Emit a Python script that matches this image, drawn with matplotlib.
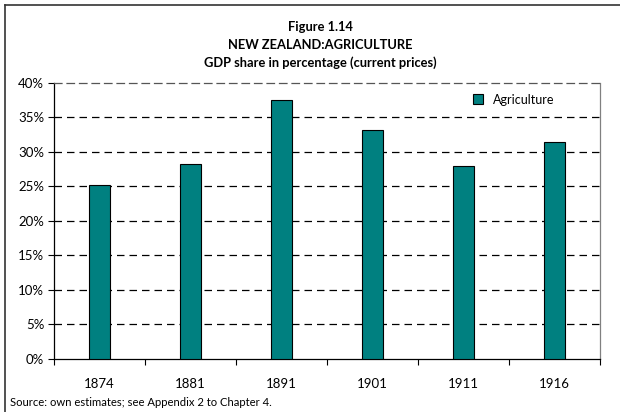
import matplotlib.pyplot as plt
from matplotlib.lines import Line2D
from matplotlib.ticker import FixedLocator

plt.rcParams['font.family'] = ['Lato', 'DejaVu Sans']

years = ['1874', '1881', '1891', '1901', '1911', '1916']
agri_share = [25.2, 28.2, 37.6, 33.2, 28.0, 31.4]
y_ticks = [0, 5, 10, 15, 20, 25, 30, 35, 40]

fig = plt.figure(figsize=(6.2, 4.12), dpi=100)
ax = fig.add_axes([54 / 620, 1 - 358.5 / 412, 546 / 620, 275.5 / 412])

x = range(len(years))
ax.bar(x, agri_share, width=0.23, color='#008080', edgecolor='black',
       linewidth=0.8, zorder=3, label='Agriculture')

ax.set_xlim(-0.5, len(years) - 0.5)
ax.set_ylim(0, 40)
ax.set_yticks(y_ticks)
ax.set_yticklabels([f'{v}%' for v in y_ticks])
ax.set_xticks(list(x))
ax.set_xticklabels(years)
ax.xaxis.set_minor_locator(FixedLocator([i - 0.5 for i in range(len(years) + 1)]))
ax.tick_params(axis='x', which='major', length=0, pad=14, labelsize=9.5)
ax.tick_params(axis='x', which='minor', length=4, width=0.8, direction='out')
ax.tick_params(axis='y', length=4, width=0.8, labelsize=9.5, pad=3)

for v in y_ticks[1:-1]:
    ax.axhline(v, color='black', linewidth=0.9, dashes=(6, 4), zorder=1)

ax.spines['left'].set_color('black')
ax.spines['bottom'].set_color('black')
ax.spines['right'].set_color('#808080')
ax.spines['top'].set_color('#555555')
ax.spines['top'].set_linestyle((0, (6, 4)))
for s in ax.spines.values():
    s.set_linewidth(0.9)

handle = Line2D([], [], marker='s', linestyle='none', markersize=7,
                markerfacecolor='#008080', markeredgecolor='black',
                markeredgewidth=0.8)
ax.legend([handle], ['Agriculture'], loc='upper left',
          bbox_to_anchor=(0.745, 0.98), frameon=False, fontsize=9,
          handletextpad=0.2, borderaxespad=0)

cx = 320 / 620
fig.text(cx, 1 - 27 / 412, 'Figure 1.14', ha='center', va='center',
         fontsize=9.3, fontweight='bold')
fig.text(cx, 1 - 45 / 412, 'NEW ZEALAND:AGRICULTURE', ha='center', va='center',
         fontsize=9.3, fontweight='bold')
fig.text(cx, 1 - 62.5 / 412, 'GDP share in percentage (current prices)',
         ha='center', va='center', fontsize=9.3, fontweight='bold')
fig.text(10 / 620, 1 - 403 / 412, 'Source: own estimates; see Appendix 2 to Chapter 4.',
         ha='left', va='center', fontsize=8.1)

# chart frame: only top and left edges fall inside the canvas
fig.add_artist(Line2D([5 / 620, 1], [1 - 5 / 412] * 2, color='#333333', linewidth=1.2))
fig.add_artist(Line2D([5 / 620] * 2, [0, 1 - 5 / 412], color='#333333', linewidth=1.2))

fig.savefig('out.png', dpi=100)
